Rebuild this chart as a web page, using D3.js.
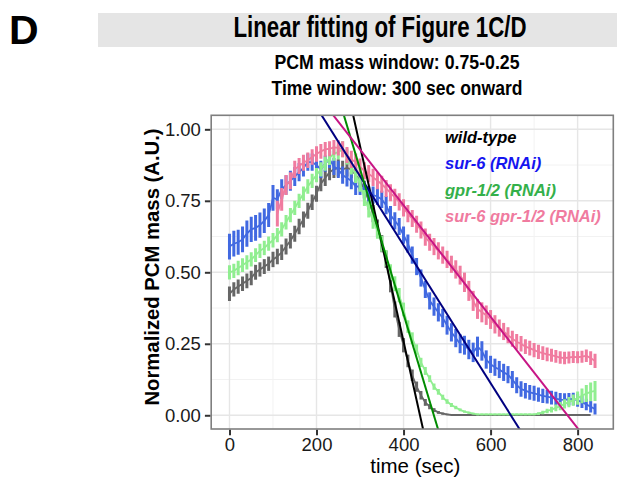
<!DOCTYPE html>
<html>
<head>
<meta charset="utf-8">
<script src="https://d3js.org/d3.v7.min.js"></script>
<style>
body{margin:0;background:#fff;}
svg{display:block;font-family:"Liberation Sans",Arial,sans-serif;}
</style>
</head>
<body>
<div id="chart"></div>
<script>
// time points (sec)
var times = [0,10,20,30,40,50,60,70,80,90,100,110,120,130,140,150,160,170,180,190,
	200,210,220,230,240,250,260,270,280,290,300,310,320,330,340,350,360,370,380,390,
	400,410,420,430,440,450,460,470,480,490,500,510,520,530,540,550,560,570,580,590,
	600,610,620,630,640,650,660,670,680,690,700,710,720,730,740,750,760,770,780,790,
	800,810,820,830,840];

// wild-type
var wt = [0.425,0.44,0.45,0.46,0.47,0.48,0.50,0.51,0.52,0.53,
	0.545,0.555,0.57,0.59,0.61,0.635,0.66,0.685,0.715,0.745,
	0.775,0.81,0.83,0.85,0.86,0.865,0.86,0.865,0.86,0.84,
	0.82,0.79,0.75,0.705,0.655,0.60,0.545,0.46,0.37,0.30,
	0.245,0.19,0.14,0.10,0.07,0.045,0.03,0.018,0.01,0.006,
	0.003,0.001,0.001,0.001,0.001,0.001,0.001,0.001,0.001,0.001,
	0.001,0.001,0.001,0.001,0.001,0.001,0.001,0.001,0.001,0.001,
	0.001,0.001,0.001,0.001,0.001,0.001,0.001,0.001,0.001,0.001,
	0.001,0.001,0.001,0.001,null];
var wtErr = [0.025,0.025,0.025,0.025,0.026,0.025,0.026,0.025,0.026,0.025,
	0.027,0.027,0.027,0.028,0.027,0.028,0.027,0.028,0.028,0.027,
	0.028,0.027,0.028,0.028,0.03,0.03,0.03,0.03,0.03,0.03,
	0.03,0.03,0.03,0.03,0.03,0.03,0.03,0.03,0.028,0.026,
	0.025,0.022,0.02,0.018,0.015,0.012,0.009,0.007,0.005,0.004,
	0.003,0,0,0,0,0,0,0,0,0,
	0,0,0,0,0,0,0,0,0,0,
	0,0,0,0,0,0,0,0,0,0,
	0,0,0,0,null];

// sur-6 (RNAi)
var sur6 = [0.59,0.60,0.605,0.615,0.635,0.65,0.655,0.665,0.68,0.70,
	0.76,0.755,0.79,0.805,0.82,0.835,0.85,0.865,0.885,0.885,
	0.875,0.86,0.88,0.895,0.87,0.86,0.84,0.83,0.82,0.80,
	0.80,0.785,0.77,0.77,0.765,0.755,0.735,0.70,0.68,0.66,
	0.63,0.60,0.56,0.52,0.48,0.44,0.40,0.38,0.36,0.34,
	0.315,0.29,0.27,0.25,0.245,0.23,0.22,0.24,0.225,0.195,
	0.178,0.168,0.16,0.15,0.142,0.125,0.105,0.092,0.086,0.08,
	0.077,0.072,0.068,0.065,0.062,0.058,0.055,0.054,0.056,0.057,
	0.052,0.046,0.038,0.03,0.022];
var sur6Err = [0.045,0.045,0.044,0.045,0.046,0.044,0.045,0.044,0.043,0.042,
	0.045,0.035,0.035,0.034,0.035,0.033,0.032,0.03,0.03,0.03,
	0.03,0.03,0.028,0.03,0.03,0.03,0.03,0.03,0.03,0.03,
	0.03,0.03,0.03,0.03,0.03,0.03,0.032,0.032,0.03,0.03,
	0.03,0.032,0.03,0.03,0.03,0.03,0.03,0.032,0.032,0.032,
	0.033,0.032,0.032,0.033,0.033,0.034,0.034,0.035,0.034,0.032,
	0.03,0.03,0.03,0.03,0.03,0.03,0.028,0.027,0.027,0.026,
	0.026,0.025,0.025,0.024,0.024,0.024,0.023,0.023,0.022,0.022,
	0.022,0.021,0.02,0.02,0.019];

// gpr-1/2 (RNAi)
var gpr = [0.50,0.505,0.515,0.525,0.535,0.545,0.56,0.575,0.585,0.60,
	0.612,0.63,0.65,0.675,0.70,0.725,0.75,0.775,0.80,0.82,
	0.84,0.86,0.88,0.90,0.915,0.92,0.93,0.905,0.87,0.84,
	0.81,0.76,0.72,0.68,0.645,0.60,0.55,0.50,0.46,0.42,
	0.37,0.31,0.27,0.23,0.185,0.155,0.128,0.10,0.082,0.063,
	0.048,0.036,0.027,0.019,0.013,0.009,0.006,0.003,0.003,0.003,
	0.003,0.003,0.003,0.003,0.003,0.003,0.003,0.003,0.003,0.003,
	0.003,0.006,0.01,0.015,0.02,0.026,0.032,0.04,0.046,0.053,
	0.06,0.068,0.076,0.082,0.085];
var gprErr = [0.025,0.025,0.025,0.024,0.025,0.025,0.024,0.025,0.025,0.025,
	0.025,0.025,0.025,0.025,0.025,0.025,0.025,0.025,0.025,0.025,
	0.025,0.025,0.025,0.025,0.025,0.025,0.028,0.028,0.028,0.028,
	0.028,0.028,0.028,0.028,0.028,0.028,0.028,0.028,0.026,0.025,
	0.024,0.022,0.02,0.018,0.016,0.014,0.012,0.011,0.01,0.009,
	0.008,0.007,0.006,0.005,0.004,0.004,0.003,0.003,0.003,0.003,
	0.003,0.003,0.003,0.003,0.003,0.003,0.003,0.003,0.003,0.003,
	0.003,0.005,0.006,0.008,0.01,0.012,0.014,0.016,0.018,0.02,
	0.023,0.026,0.03,0.033,0.035];

// sur-6 gpr-1/2 (RNAi)
var dbl = [null,null,null,null,null,null,null,null,null,null,
	null,0.705,0.755,0.805,0.82,0.86,0.872,0.883,0.892,0.903,
	0.914,0.923,0.93,0.932,0.937,0.935,0.93,0.91,0.895,0.885,
	0.868,0.855,0.845,0.832,0.82,0.808,0.793,0.778,0.762,0.746,
	0.725,0.705,0.688,0.668,0.648,0.623,0.605,0.59,0.575,0.56,
	0.545,0.528,0.51,0.49,0.465,0.435,0.40,0.372,0.36,0.35,
	0.335,0.318,0.305,0.293,0.28,0.268,0.257,0.25,0.24,0.235,
	0.228,0.222,0.217,0.213,0.21,0.206,0.202,0.20,0.202,0.204,
	0.203,0.205,0.208,0.20,0.19];
var dblErr = [null,null,null,null,null,null,null,null,null,null,
	null,0.045,0.04,0.035,0.03,0.03,0.028,0.028,0.027,0.027,
	0.027,0.026,0.026,0.026,0.026,0.027,0.028,0.028,0.03,0.03,
	0.03,0.03,0.03,0.03,0.03,0.03,0.03,0.03,0.03,0.03,
	0.03,0.03,0.03,0.03,0.03,0.03,0.03,0.03,0.03,0.03,
	0.03,0.03,0.032,0.033,0.034,0.035,0.035,0.035,0.035,0.034,
	0.033,0.032,0.03,0.03,0.028,0.028,0.027,0.027,0.026,0.026,
	0.025,0.025,0.024,0.024,0.023,0.022,0.022,0.022,0.021,0.021,
	0.021,0.021,0.022,0.024,0.025];

// linear fits: intercept, slope (per sec)
var fitIntercept = [2.992, 1.560, 2.383, 1.514];
var fitSlope = [-0.006835, -0.002413, -0.005074, -0.001949];

var labels = ["wild-type", "sur-6 (RNAi)", "gpr-1/2 (RNAi)", "sur-6 gpr-1/2 (RNAi)"];
var xTicks = [0, 200, 400, 600, 800];
var xMinor = [100, 300, 500, 700];
var yTicks = [0, 0.25, 0.5, 0.75, 1.0];
var yMinor = [0.125, 0.375, 0.625, 0.875];

var seriesColor = ["#666666", "#4169e1", "#90ee90", "#f07b9f"];
var fitColor = ["#000000", "#000080", "#008b00", "#c71585"];
var labelColor = ["#000000", "#1515f0", "#34b04a", "#f07b9f"];

var width = 617, height = 481;
var svg = d3.select("#chart").append("svg")
	.attr("width", width)
	.attr("height", height);

var x = d3.scaleLinear().domain([-42, 882]).range([211.2, 613.3]);
var y = d3.scaleLinear().domain([-0.048, 1.049]).range([429, 115.3]);
var px0 = x.range()[0], px1 = x.range()[1], py0 = y.range()[1], py1 = y.range()[0];

// header
svg.append("text").attr("x", 9).attr("y", 44)
	.attr("font-size", 41).attr("font-weight", "bold").text("D");
svg.append("rect").attr("x", 98).attr("y", 13).attr("width", 519).attr("height", 34)
	.attr("fill", "#e5e5e5");
svg.append("text").attr("x", 380).attr("y", 37).attr("text-anchor", "middle")
	.attr("font-size", 29).attr("font-weight", "bold")
	.attr("textLength", 293).attr("lengthAdjust", "spacingAndGlyphs")
	.text("Linear fitting of Figure 1C/D");
svg.append("text").attr("x", 397).attr("y", 69).attr("text-anchor", "middle")
	.attr("font-size", 20).attr("font-weight", "bold")
	.attr("textLength", 245).attr("lengthAdjust", "spacingAndGlyphs")
	.text("PCM mass window: 0.75-0.25");
svg.append("text").attr("x", 397).attr("y", 95).attr("text-anchor", "middle")
	.attr("font-size", 20).attr("font-weight", "bold")
	.attr("textLength", 251).attr("lengthAdjust", "spacingAndGlyphs")
	.text("Time window: 300 sec onward");

// grid
var grid = svg.append("g");
grid.selectAll(".vmin").data(xMinor).enter().append("line")
	.attr("x1", function(d){ return x(d); }).attr("x2", function(d){ return x(d); })
	.attr("y1", py0).attr("y2", py1)
	.attr("stroke", "#f2f2f2").attr("stroke-width", 1);
grid.selectAll(".hmin").data(yMinor).enter().append("line")
	.attr("y1", function(d){ return y(d); }).attr("y2", function(d){ return y(d); })
	.attr("x1", px0).attr("x2", px1)
	.attr("stroke", "#f2f2f2").attr("stroke-width", 1);
grid.selectAll(".vmaj").data(xTicks).enter().append("line")
	.attr("x1", function(d){ return x(d); }).attr("x2", function(d){ return x(d); })
	.attr("y1", py0).attr("y2", py1)
	.attr("stroke", "#e6e6e6").attr("stroke-width", 1.4);
grid.selectAll(".hmaj").data(yTicks).enter().append("line")
	.attr("y1", function(d){ return y(d); }).attr("y2", function(d){ return y(d); })
	.attr("x1", px0).attr("x2", px1)
	.attr("stroke", "#e6e6e6").attr("stroke-width", 1.4);

svg.append("clipPath").attr("id", "panel").append("rect")
	.attr("x", px0).attr("y", py0).attr("width", px1 - px0).attr("height", py1 - py0);
var plot = svg.append("g").attr("clip-path", "url(#panel)");

function drawSeries(vals, errs, color){
	var pts = times.map(function(t, i){ return {t: t, v: vals[i], e: errs[i]}; })
		.filter(function(d){ return d.v != null; });
	var line = d3.line()
		.x(function(d){ return x(d.t); })
		.y(function(d){ return y(d.v); });
	plot.append("path").datum(pts)
		.attr("d", line)
		.attr("fill", "none")
		.attr("stroke", color)
		.attr("stroke-width", 1.8);
	plot.append("g").selectAll("line").data(pts.filter(function(d){ return d.e > 0; }))
		.enter().append("line")
		.attr("x1", function(d){ return x(d.t); })
		.attr("x2", function(d){ return x(d.t); })
		.attr("y1", function(d){ return y(d.v - d.e); })
		.attr("y2", function(d){ return y(d.v + d.e); })
		.attr("stroke", color)
		.attr("stroke-width", 3);
}
drawSeries(wt, wtErr, seriesColor[0]);
drawSeries(sur6, sur6Err, seriesColor[1]);
drawSeries(gpr, gprErr, seriesColor[2]);
drawSeries(dbl, dblErr, seriesColor[3]);

// fitted lines across the panel
var xd = x.domain();
for (var i = 0; i < 4; i++) {
	plot.append("line")
		.attr("x1", x(xd[0])).attr("y1", y(fitIntercept[i] + fitSlope[i] * xd[0]))
		.attr("x2", x(xd[1])).attr("y2", y(fitIntercept[i] + fitSlope[i] * xd[1]))
		.attr("stroke", fitColor[i])
		.attr("stroke-width", 2);
}

// legend labels
svg.selectAll(".lab").data(labels).enter().append("text")
	.attr("x", 445)
	.attr("y", function(d, i){ return 143 + i * 26.3; })
	.attr("font-size", 16.5)
	.attr("font-weight", "bold")
	.attr("font-style", "italic")
	.attr("fill", function(d, i){ return labelColor[i]; })
	.text(function(d){ return d; });

// panel border
svg.append("rect").attr("x", px0).attr("y", py0)
	.attr("width", px1 - px0).attr("height", py1 - py0)
	.attr("fill", "none").attr("stroke", "#7f7f7f").attr("stroke-width", 1.6);

// axes
var xAxis = svg.append("g").attr("transform", "translate(0," + (py1 + 0.8) + ")")
	.call(d3.axisBottom(x).tickValues(xTicks).tickSize(5.5).tickPadding(3));
var yAxis = svg.append("g").attr("transform", "translate(" + (px0 - 0.8) + ",0)")
	.call(d3.axisLeft(y).tickValues(yTicks).tickSize(5.5).tickPadding(4)
		.tickFormat(d3.format(".2f")));
[xAxis, yAxis].forEach(function(a){
	a.select(".domain").remove();
	a.selectAll("line").attr("stroke", "#333").attr("stroke-width", 2);
	a.selectAll("text").attr("font-size", 18.5).attr("fill", "#1a1a1a")
		.attr("font-family", "Liberation Sans, Arial, sans-serif");
});

svg.append("text").attr("x", (px0 + px1) / 2 + 3).attr("y", 473)
	.attr("text-anchor", "middle").attr("font-size", 20.5)
	.text("time (sec)");
svg.append("text")
	.attr("transform", "translate(159,267) rotate(-90)")
	.attr("text-anchor", "middle").attr("font-size", 20.3).attr("font-weight", "bold")
	.text("Normalized PCM mass (A.U.)");
</script>
</body>
</html>
